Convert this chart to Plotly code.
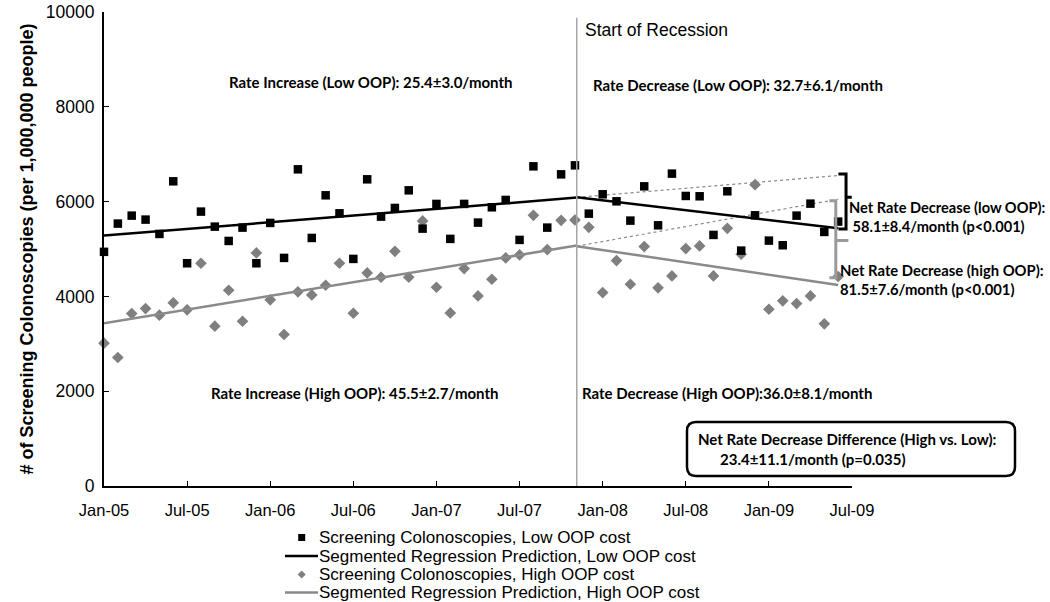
import plotly.graph_objects as go

# ---------------- data ----------------
month_index = list(range(54))  # Jan-05 ... Jun-09, monthly
tick_months = [0, 6, 12, 18, 24, 30, 36, 42, 48, 54]
tick_labels = ["Jan-05", "Jul-05", "Jan-06", "Jul-06", "Jan-07",
               "Jul-07", "Jan-08", "Jul-08", "Jan-09", "Jul-09"]

low_oop = [4940, 5536, 5704, 5620, 5318, 6428, 4699, 5789, 5472, 5170,
           5451, 4699, 5550, 4812, 6681, 5233, 6133, 5753, 4791, 6470,
           5683, 5866, 6238, 5430, 5951, 5213, 5951, 5557, 5880, 6035,
           5192, 6744, 5451, 6575, 6765, 5746, 6154, 6006, 5599, 6322,
           5500, 6590, 6119, 6112, 5297, 6217, 4966, 5711, 5177, 5079,
           5704, 5957, 5360, 5578]

high_oop = [3013, 2711, 3638, 3744, 3603, 3864, 3716, 4699, 3371, 4130,
            3476, 4918, 3927, 3196, 4096, 4032, 4235, 4699, 3645, 4496,
            4404, 4952, 4404, 5592, 4193, 3652, 4587, 4011, 4362, 4812,
            4876, 5711, 4988, 5605, 5612, 5458, 4081, 4756, 4256, 5051,
            4180, 4433, 5009, 5065, 4433, 5437, 4889, 6358, 3729, 3906,
            3849, 4011, 3421, 4420]

recession_month = 34.13          # Start of recession (vertical line)
pre_x = [0, recession_month]
post_x = [recession_month, 53]
low_pre = [5283, 6084]
low_post = [6090, 5440]
low_counterfactual = [6090, 6550]
high_pre = [3434, 5072]
high_post = [5060, 4240]
high_counterfactual = [5060, 6050]

BLACK = "#000000"
GREY_PT = "#7f7f7f"
GREY_LN = "#8a8a8a"

# plot-area pixel geometry (for placing paper-referenced annotations)
L, R, T, B = 104, 852, 12, 486
W, H = 1050, 602


def P(xp, yp):
    return (xp - L) / (R - L), (B - yp) / (B - T)


fig = go.Figure()

# counterfactual dotted lines
fig.add_trace(go.Scatter(x=post_x, y=low_counterfactual, mode="lines",
                         line=dict(color="#8c8c8c", width=1.2, dash="dot"),
                         showlegend=False, hoverinfo="skip"))
fig.add_trace(go.Scatter(x=post_x, y=high_counterfactual, mode="lines",
                         line=dict(color="#8c8c8c", width=1.2, dash="dot"),
                         showlegend=False, hoverinfo="skip"))

# data points
fig.add_trace(go.Scatter(x=month_index, y=high_oop, mode="markers",
                         name="Screening Colonoscopies, High OOP cost",
                         marker=dict(symbol="diamond", size=9, color=GREY_PT),
                         cliponaxis=False))
fig.add_trace(go.Scatter(x=month_index, y=low_oop, mode="markers",
                         name="Screening Colonoscopies, Low OOP cost",
                         marker=dict(symbol="square", size=8.5, color=BLACK),
                         cliponaxis=False))

# segmented regression lines
fig.add_trace(go.Scatter(x=pre_x, y=low_pre, mode="lines",
                         name="Segmented Regression Prediction, Low OOP cost",
                         line=dict(color=BLACK, width=2.5)))
fig.add_trace(go.Scatter(x=post_x, y=low_post, mode="lines", showlegend=False,
                         line=dict(color=BLACK, width=2.5)))
fig.add_trace(go.Scatter(x=pre_x, y=high_pre, mode="lines",
                         name="Segmented Regression Prediction, High OOP cost",
                         line=dict(color=GREY_LN, width=2.5)))
fig.add_trace(go.Scatter(x=post_x, y=high_post, mode="lines", showlegend=False,
                         line=dict(color=GREY_LN, width=2.5)))

shapes = []
# recession line
shapes.append(dict(type="line", xref="x", yref="paper", x0=recession_month,
                   x1=recession_month, y0=0, y1=0.988,
                   line=dict(color="#a6a6a6", width=1.5)))


# brackets (annotation geometry)
def bracket(xl, xv, xt, yt, ym, yb, color):
    path = (f"M{xl},{yt} L{xv},{yt} L{xv},{yb} L{xl},{yb} "
            f"M{xv},{ym} L{xt},{ym}")
    return dict(type="path", xref="x", yref="y", path=path,
                line=dict(color=color, width=3))


shapes.append(bracket(53.02, 53.57, 53.98, 6583, 6090, 5424, BLACK))
shapes.append(bracket(52.37, 52.83, 53.74, 6020, 5177, 4391, "#9a9a9a"))


# rounded box
def rounded_box(x0, y0, x1, y1, r):
    def p(x, y):
        a, b = P(x, y)
        return f"{a:.5f},{b:.5f}"
    path = (f"M{p(x0 + r, y0)} L{p(x1 - r, y0)} Q{p(x1, y0)} {p(x1, y0 + r)} "
            f"L{p(x1, y1 - r)} Q{p(x1, y1)} {p(x1 - r, y1)} "
            f"L{p(x0 + r, y1)} Q{p(x0, y1)} {p(x0, y1 - r)} "
            f"L{p(x0, y0 + r)} Q{p(x0, y0)} {p(x0 + r, y0)} Z")
    return dict(type="path", xref="paper", yref="paper", path=path,
                line=dict(color=BLACK, width=2.5), fillcolor="white")


shapes.append(rounded_box(687, 422, 1015, 476, 9))

# custom legend symbols
rows = [537.5, 556, 574.5, 592.5]
sx = 301.7
a0, b0 = P(sx - 3.5, rows[0] - 3.5)
a1, b1 = P(sx + 3.5, rows[0] + 3.5)
shapes.append(dict(type="rect", xref="paper", yref="paper", x0=a0, x1=a1,
                   y0=b1, y1=b0, fillcolor=BLACK, line=dict(width=0)))
for yrow, col in ((rows[1], BLACK), (rows[3], GREY_LN)):
    a0, b0 = P(285, yrow)
    a1, _ = P(318, yrow)
    shapes.append(dict(type="line", xref="paper", yref="paper", x0=a0, x1=a1,
                       y0=b0, y1=b0, line=dict(color=col, width=2.5)))
d = [P(sx, rows[2] - 4), P(sx + 4, rows[2]), P(sx, rows[2] + 4), P(sx - 4, rows[2])]
shapes.append(dict(type="path", xref="paper", yref="paper",
                   path="M" + " L".join(f"{a:.5f},{b:.5f}" for a, b in d) + " Z",
                   fillcolor=GREY_PT, line=dict(width=0)))

annotations = []


def txt(text, xp, yp, xanchor="center", size=15, family="Lato", bold=True,
        align="left"):
    a, b = P(xp, yp)
    annotations.append(dict(text=f"<b>{text}</b>" if bold else text,
                            xref="paper", yref="paper", x=a, y=b,
                            xanchor=xanchor, yanchor="middle", showarrow=False,
                            align=align,
                            font=dict(family=family, size=size, color="#000")))


ARIAL = "Liberation Sans, Arial"
txt("Start of Recession", 583, 30, xanchor="left", size=17.5, family=ARIAL,
    bold=False)
txt("Rate Increase (Low OOP): 25.4±3.0/month", 370.5, 82)
txt("Rate Decrease (Low OOP): 32.7±6.1/month", 738, 85)
txt("Rate Increase (High OOP): 45.5±2.7/month", 354.5, 393)
txt("Rate Decrease (High OOP):36.0±8.1/month", 726.5, 393)
txt("Net Rate Decrease (low OOP):<br> 58.1±8.4/month (p&lt;0.001)", 847, 216.5,
    xanchor="left", size=14.6)
txt("Net Rate Decrease (high OOP):<br>81.5±7.6/month (p&lt;0.001)", 838, 279.5,
    xanchor="left", size=14.8)
txt("Net Rate Decrease Difference (High vs. Low):", 696, 439, xanchor="left")
txt("23.4±11.1/month (p=0.035)", 718, 459, xanchor="left")

legend_texts = ["Screening Colonoscopies, Low OOP cost",
                "Segmented Regression Prediction, Low OOP cost",
                "Screening Colonoscopies, High OOP cost",
                "Segmented Regression Prediction, High OOP cost"]
for t, yrow in zip(legend_texts, rows):
    txt(t, 317, yrow, xanchor="left", size=17, family=ARIAL, bold=False)

fig.update_layout(
    width=W, height=H,
    margin=dict(l=L, r=W - R, t=T, b=H - B, autoexpand=False),
    plot_bgcolor="white", paper_bgcolor="white",
    showlegend=False,
    shapes=shapes, annotations=annotations,
    font=dict(family=ARIAL, color="#000"),
    xaxis=dict(range=[0, 54], tickvals=tick_months, ticktext=tick_labels,
               automargin=False,
               showgrid=False, zeroline=False, showline=True,
               linecolor=BLACK, linewidth=1.5, ticks="inside", ticklen=5,
               tickwidth=1.2, tickcolor=BLACK, ticklabelstandoff=8,
               tickfont=dict(family=ARIAL, size=16.5, color="#000")),
    yaxis=dict(range=[0, 10000], dtick=2000, tickformat="d", automargin=False,
               showgrid=False, zeroline=False,
               showline=True, linecolor=BLACK, linewidth=2, ticks="inside",
               ticklen=5, tickwidth=1.2, tickcolor=BLACK, ticklabelstandoff=4,
               tickfont=dict(family=ARIAL, size=17.5, color="#000")),
)
fig.update_yaxes(title=dict(
    text="<b># of Screening Colonoscopies (per 1,000,000 people)</b>",
    font=dict(family=ARIAL, size=18, color="#000"), standoff=8))

fig.write_html("out.html",
               config={"displayModeBar": False},
               post_script="document.body.style.margin='0';"
                           "document.body.style.overflow='hidden';")
